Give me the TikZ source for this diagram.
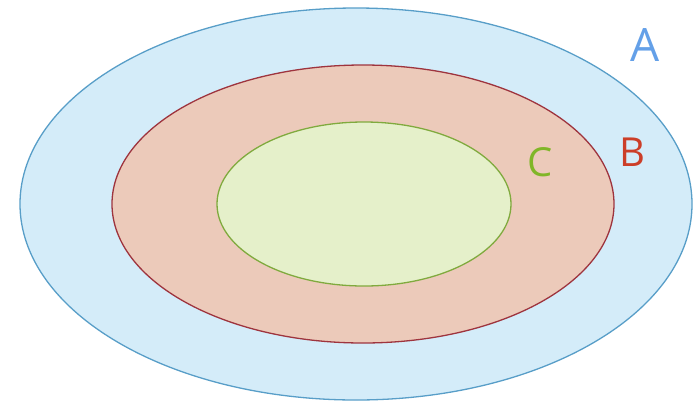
\documentclass[tikz,border=0pt]{standalone}
\usepackage{fontspec}
\setmainfont{Open Sans}
\usetikzlibrary{shapes.geometric,positioning}

\definecolor{setAfill}{RGB}{212,236,249}
\definecolor{setAline}{RGB}{88,158,200}
\definecolor{setAtext}{RGB}{100,160,232}
\definecolor{setBfill}{RGB}{236,202,186}
\definecolor{setBline}{RGB}{158,52,62}
\definecolor{setBtext}{RGB}{204,62,40}
\definecolor{setCfill}{RGB}{229,240,202}
\definecolor{setCline}{RGB}{128,170,62}
\definecolor{setCtext}{RGB}{128,182,40}

\tikzset{
    setshape/.style={ellipse, inner sep=0pt, line width=1.3pt},
    setlabel/.style={font=\fontsize{40}{40}\selectfont, inner sep=0pt},
}

\begin{document}
\begin{tikzpicture}[x=1pt, y=-1pt]
\useasboundingbox (0,0) rectangle (699,408);

  % Mengen
  \node[setshape, fill=setAfill, draw=setAline, minimum width=672pt, minimum height=392pt] (A) at (356,204) {};
  \node[setshape, fill=setBfill, draw=setBline, minimum width=502pt, minimum height=278pt] (B) at (363,204) {};
  \node[setshape, fill=setCfill, draw=setCline, minimum width=294pt, minimum height=164pt] (C) at (364,204) {};

  % Beschriftungen
  \node[setlabel, text=setAtext, font=\fontsize{46}{46}\selectfont] (labA) at (645,45) {A};
  \node[setlabel, text=setBtext] (labB) at (632,152) {B};
  \node[setlabel, text=setCtext] (labC) at (540,162) {C};
\end{tikzpicture}
\end{document}
